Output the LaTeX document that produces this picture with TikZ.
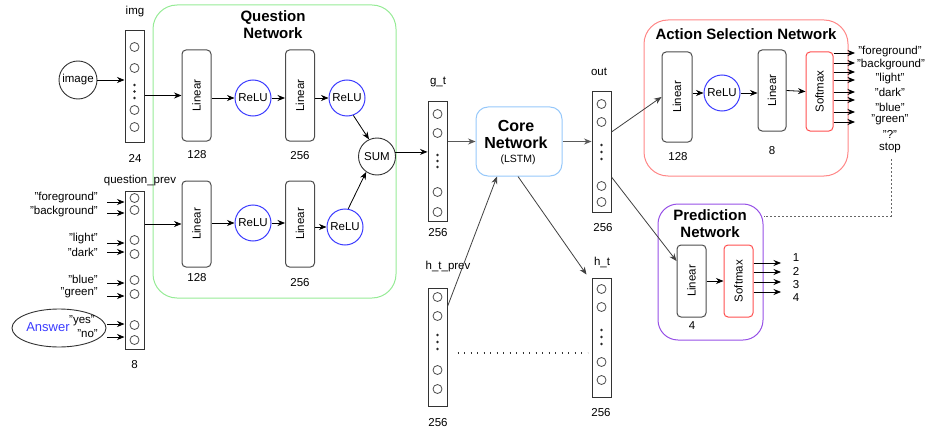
\documentclass[tikz,border=0pt]{standalone}
\usepackage{fontspec}
\setmainfont{Liberation Sans}
\usetikzlibrary{arrows.meta,shapes.geometric,calc}
\definecolor{greenB}{RGB}{150,235,150}
\definecolor{redB}{RGB}{255,135,135}
\definecolor{softRed}{RGB}{255,80,80}
\definecolor{coreBlue}{RGB}{150,200,250}
\definecolor{reluBlue}{RGB}{60,60,255}
\definecolor{purpB}{RGB}{150,80,230}
\definecolor{ansBlue}{RGB}{60,60,255}
\newcommand\neuroncol[3]{%
  \foreach \yy in {#2}{\draw[black!70,line width=0.8pt] (#1,\yy) circle[radius=4.5pt];}%
  \foreach \yy in {#3}{\fill[black!85] (#1,\yy) circle[radius=1.4pt];}}
\tikzset{
  conn/.style={line width=0.8pt,-{Stealth[length=7.5pt,width=6pt]}},
  gconn/.style={conn,draw=black!65},
  linbox/.style={draw=black!70,line width=1pt,rounded corners=4pt,minimum width=29pt,inner sep=0pt},
  relu/.style={circle,draw=reluBlue,line width=1pt,minimum size=36pt,inner sep=0pt},
  vcol/.style={draw=black!80,line width=1pt,minimum width=19pt,inner sep=0pt},
  softbox/.style={draw=softRed,line width=1pt,rounded corners=4pt,minimum width=27pt,inner sep=0pt},
  netbox/.style={line width=1pt,rounded corners=24pt,inner sep=0pt},
  title/.style={font=\fontsize{15}{17}\selectfont\bfseries,align=center},
  lbl/.style={inner sep=0pt}
}
\begin{document}
\begin{tikzpicture}[x=1pt,y=-1pt,font=\fontsize{11.5}{13}\selectfont]
\useasboundingbox (0,0) rectangle (925,433);

% ---------- network boxes ----------
\node[netbox,draw=greenB,minimum width=243pt,minimum height=293pt] (qnet) at (274.5,151.5) {};
\node[title] (qtitle) at (273,24.5) {Question\\Network};
\node[netbox,draw=redB,minimum width=204pt,minimum height=156pt] (anet) at (746,98) {};
\node[title] (atitle) at (746,34) {Action Selection Network};
\node[netbox,rounded corners=20pt,draw=purpB,minimum width=105pt,minimum height=136pt] (pnet) at (710.5,272) {};
\node[title] (ptitle) at (710,224) {Prediction\\Network};

% ---------- inputs ----------
\node[circle,draw=black!80,line width=0.9pt,minimum size=38pt,inner sep=0pt] (image) at (78,80) {image};
\node[vcol,minimum height=111pt] (imgcol) at (134.5,86.5) {};
\neuroncol{134.5}{47,68,110,127}{85,91.5,98}
\node[lbl] (imglbl) at (135,12) {img};
\node[lbl] (n24) at (135,158) {24};
\draw[conn] (image.east) -- (image.east -| imgcol.west);

\node[vcol,minimum height=158pt] (qcol) at (134.5,270) {};
\neuroncol{134.5}{198,210,240,254,280,294,325,340}{}
\node[lbl] (qlbl) at (140,181) {question\_prev};
\node[lbl] (n8) at (134.5,365) {8};

\node[ellipse,draw=black!80,line width=0.9pt,minimum width=94pt,minimum height=38pt,inner sep=0pt] (answer) at (59,328) {};
\node[lbl,text=ansBlue,font=\fontsize{13}{15}\selectfont] (anstxt) at (48,327) {Answer};

\node[lbl,anchor=east] (tfg) at (98,198) {"foreground"};
\node[lbl,anchor=east] (tbg) at (98,212) {"background"};
\node[lbl,anchor=east] (tli) at (98,239) {"light"};
\node[lbl,anchor=east] (tda) at (98,252) {"dark"};
\node[lbl,anchor=east] (tbl) at (98,279) {"blue"};
\node[lbl,anchor=east] (tgr) at (98,293) {"green"};
\node[lbl,anchor=east] (tye) at (95,321) {"yes"};
\node[lbl,anchor=east] (tno) at (98,334) {"no"};
\foreach \y in {202,213,243,252,283,296,324,337}
  \draw[conn] (107,\y) -- (qcol.west |- 0,\y);

% ---------- question network ----------
\node[linbox,minimum height=91pt] (L1) at (196.5,95.5) {\rotatebox{90}{Linear}};
\node[relu] (R1) at (253,98) {ReLU};
\node[linbox,minimum height=91pt] (L2) at (300,95.5) {\rotatebox{90}{Linear}};
\node[relu] (R2) at (347,98) {ReLU};
\node[circle,draw=black!80,line width=0.9pt,minimum size=37pt,inner sep=0pt] (sum) at (377,156.5) {SUM};
\node[lbl] (n128a) at (197,155) {128};
\node[lbl] (n256a) at (300,156) {256};

\node[linbox,minimum height=86pt] (L3) at (196.5,224) {\rotatebox{90}{Linear}};
\node[relu] (R3) at (253,223) {ReLU};
\node[linbox,minimum height=86pt] (L4) at (300,224) {\rotatebox{90}{Linear}};
\node[relu] (R4) at (345,227) {ReLU};
\node[lbl] (n128b) at (197,278) {128};
\node[lbl] (n256b) at (300,283) {256};

\draw[conn] (imgcol.east |- L1) -- (L1.west);
\draw[conn] (L1.east |- R1) -- (R1.west);
\draw[conn] (R1.east) -- (R1.east -| L2.west);
\draw[conn] (L2.east |- R2) -- (R2.west);
\draw[conn] (R2.290) -- (sum.115);
\draw[conn] (qcol.east |- L3) -- (L3.west);
\draw[conn] (L3.east |- R3) -- (R3.west);
\draw[conn] (R3.east) -- (R3.east -| L4.west);
\draw[conn] (L4.east |- R4) -- (R4.west);
\draw[conn] (R4.80) -- (sum.235);

% ---------- core ----------
\node[vcol,minimum height=119pt] (gt) at (437.5,161.5) {};
\neuroncol{437.5}{114,133,192,212}{155,161,167}
\node[lbl] (gtlbl) at (438,82) {g\_t};
\node[lbl] (n256c) at (438,233) {256};
\draw[conn] (sum.14) -- (sum.14 -| gt.west);

\node[draw=coreBlue,line width=1pt,rounded corners=12pt,minimum width=86pt,minimum height=69pt,inner sep=0pt] (core) at (519,141.5) {};
\node[title,font=\fontsize{16}{17.5}\selectfont\bfseries] (coretxt) at (516,134.5) {Core\\Network};
\node[lbl,font=\fontsize{10.5}{12}\selectfont] (lstm) at (518,160) {(LSTM)};
\draw[gconn] (gt.east |- core) -- (core.west);

\node[vcol,minimum height=120pt] (out) at (601.5,152) {};
\neuroncol{601.5}{104,122,186,202}{145,152,159}
\node[lbl] (outlbl) at (599,72) {out};
\node[lbl] (n256d) at (603,228) {256};
\draw[gconn] (core.east) -- (core.east -| out.west);

\node[vcol,minimum height=118pt] (hprev) at (437.5,347) {};
\neuroncol{437.5}{297,316,370,389}{335,342,349}
\node[lbl] (hplbl) at (448,267) {h\_t\_prev};
\node[lbl] (n256e) at (438,423) {256};

\node[vcol,minimum height=119pt] (ht) at (601.5,337.5) {};
\neuroncol{601.5}{289,307,362,380}{330,337,344}
\node[lbl] (htlbl) at (602,262) {h\_t};
\node[lbl] (n256f) at (601,413) {256};

\draw[conn,draw=black!75] ($(hprev.north east)+(0,19)$) -- ($(core.south)+(-22,0)$);
\draw[conn,draw=black!75] ($(core.south)+(-1,0)$) -- ($(ht.north west)+(-5,-3)$);
\draw[line width=1.2pt,dash pattern=on 1.3pt off 5.2pt,black!80] ($(hprev.east)+(10,6)$) -- ($(ht.west |- hprev.east)+(-4,6)$);

% ---------- action selection ----------
\node[linbox,minimum width=30pt,minimum height=90pt] (LA1) at (677,97) {\rotatebox{90}{Linear}};
\node[relu] (RA) at (722,93) {ReLU};
\node[linbox,minimum width=28pt,minimum height=81pt] (LA2) at (772,90.5) {\rotatebox{90}{Linear}};
\node[softbox,minimum height=79pt] (SA) at (819.5,91.5) {\rotatebox{90}{Softmax}};
\node[lbl] (n128c) at (678,157) {128};
\node[lbl] (n8b) at (772,151) {8};
\draw[conn,draw=black!75] ($(out.east)+(0,-20)$) -- (LA1.west);
\draw[conn] (LA1.east |- RA) -- (RA.west);
\draw[conn] (RA.east) -- (RA.east -| LA2.west);
\draw[conn] (LA2.east) -- (SA.west);
\foreach \y in {53,63,72,80,92,100,112,122}
  \draw[conn] (SA.east |- 0,\y) -- (855,\y);
\node[lbl] (ofg) at (890,52) {"foreground"};
\node[lbl] (obg) at (891,65) {"background"};
\node[lbl] (oli) at (890,79) {"light"};
\node[lbl] (oda) at (890,92) {"dark"};
\node[lbl] (obl) at (890,107) {"blue"};
\node[lbl] (ogr) at (890,120) {"green"};
\node[lbl] (oq) at (890,134) {"?"};
\node[lbl] (ostop) at (890,148) {stop};
\draw[line width=1pt,dash pattern=on 1.5pt off 2.5pt,black!60] ($(ostop.south)+(1,6)$) |- (pnet.east |- 0,216);

% ---------- prediction ----------
\node[linbox,minimum height=72pt] (LP) at (691.5,281) {\rotatebox{90}{Linear}};
\node[softbox,minimum width=29pt,minimum height=72pt] (SP) at (738.5,281) {\rotatebox{90}{Softmax}};
\node[lbl] (n4) at (692,326) {4};
\draw[conn,draw=black!75] ($(out.east)+(0,25)$) -- ($(LP.west)+(0,-20)$);
\draw[conn] (LP.east) -- (SP.west);
\foreach \y in {263,272,282,292}
  \draw[conn] (SP.east |- 0,\y) -- (781,\y);
\node[lbl] (p1) at (796,258) {1};
\node[lbl] (p2) at (796,271) {2};
\node[lbl] (p3) at (796,285) {3};
\node[lbl] (p4) at (796,298) {4};
\end{tikzpicture}
\end{document}
